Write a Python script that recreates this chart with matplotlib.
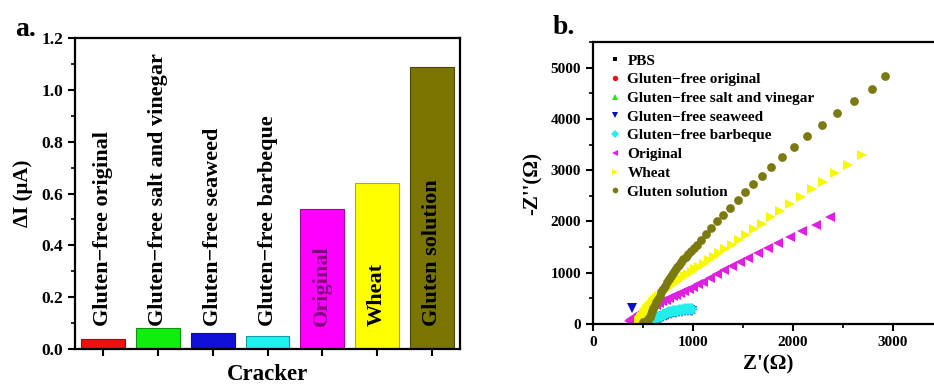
import matplotlib
matplotlib.use("Agg")
import matplotlib.pyplot as plt
from matplotlib.ticker import MultipleLocator

plt.rcParams['font.family'] = ['Liberation Serif', 'DejaVu Serif']
plt.rcParams['font.weight'] = 'bold'

# ---------------- Panel a data ----------------
bar_labels = ["Gluten\u2212free original", "Gluten\u2212free salt and vinegar",
              "Gluten\u2212free seaweed", "Gluten\u2212free barbeque",
              "Original", "Wheat", "Gluten solution"]
bar_values = [0.04, 0.08, 0.06, 0.05, 0.54, 0.64, 1.09]
bar_colors = ["#f01010", "#10ee10", "#1010d8", "#20f0f0", "#ff00ff", "#ffff00", "#7a7400"]
bar_edges = ["#901010", "#109010", "#101080", "#10a0a0", "#a000a0", "#b0b000", "#4a4800"]
text_colors = ["black", "black", "black", "black", "#800080", "black", "black"]
yticks_a = [0.0, 0.2, 0.4, 0.6, 0.8, 1.0, 1.2]

# ---------------- Panel b data ----------------
series_names = ["PBS", "Gluten\u2212free original", "Gluten\u2212free salt and vinegar",
                "Gluten\u2212free seaweed", "Gluten\u2212free barbeque",
                "Original", "Wheat", "Gluten solution"]

cyan_x = [560, 570, 580, 590, 600, 615, 630, 645, 660, 680, 700, 720, 740, 760, 780,
          800, 820, 840, 860, 880, 900, 920, 940, 960, 975, 985]
cyan_y = [10, 25, 40, 55, 70, 90, 110, 128, 145, 165, 183, 198, 212, 225, 236,
          246, 255, 263, 270, 276, 281, 285, 288, 290, 290, 285]

pbs_x = [560, 580, 600, 630, 660, 700, 740, 780, 820, 860, 900, 940, 975]
pbs_y = [15, 45, 75, 115, 150, 185, 212, 235, 255, 270, 280, 287, 288]

gfo_x = [565, 585, 605, 635, 665, 705, 745, 785, 825, 865, 905, 945, 978]
gfo_y = [18, 48, 78, 118, 152, 188, 215, 238, 258, 272, 282, 288, 289]

gfsv_x = [562, 582, 602, 632, 662, 702, 742, 782, 822, 862, 902, 942, 976]
gfsv_y = [20, 50, 80, 120, 155, 190, 217, 240, 260, 273, 283, 289, 290]

sea_x = [387, 580, 600, 620, 640, 660, 680, 700, 725, 750, 775, 800, 830, 860, 890,
         920, 950, 975, 985]
sea_y = [305, 10, 35, 60, 82, 102, 122, 140, 160, 178, 194, 208, 222, 234, 243,
         250, 255, 258, 258]

orig_x = [358, 368, 380, 395, 412, 430, 450, 472, 495, 520, 545, 572, 600, 630, 660,
          690, 725, 760, 795, 830, 870, 910, 955, 1000, 1050,
          1103, 1170, 1237, 1310, 1387, 1470, 1553, 1647, 1747, 1853, 1970, 2093, 2227, 2370]
orig_y = [50, 72, 95, 118, 142, 165, 188, 212, 238, 265, 292, 320, 350, 380, 410,
          440, 472, 505, 540, 575, 612, 650, 690, 730, 775,
          822, 900, 972, 1049, 1133, 1211, 1295, 1386, 1483, 1587, 1697, 1814, 1937, 2085]

wheat_x = [460, 468, 478, 490, 505, 520, 540, 560, 580, 600, 620, 640, 660, 685, 710,
           735, 760, 790, 820, 850, 880, 915, 950, 985, 1020, 1060, 1105, 1155, 1205,
           1260, 1320, 1385, 1456, 1530, 1605, 1687, 1775, 1867, 1967, 2075, 2187,
           2303, 2420, 2550, 2687]
wheat_y = [55, 85, 120, 160, 200, 240, 285, 330, 375, 420, 465, 510, 555, 600, 640,
           680, 720, 760, 800, 840, 885, 930, 975, 1020, 1065, 1115, 1175, 1240, 1305,
           1380, 1460, 1550, 1640, 1740, 1845, 1960, 2085, 2210, 2345, 2485, 2625,
           2775, 2940, 3110, 3290]

glu_x = [496, 506, 518, 530, 542, 554, 566, 578, 590, 603, 617, 632, 648, 665, 682,
         700, 720, 740, 760, 780, 800, 820, 840, 860, 880, 900, 925, 950, 975, 1005,
         1040, 1080, 1130, 1180, 1240, 1303, 1370, 1447, 1523, 1597, 1687, 1780, 1890,
         2010, 2143, 2287, 2443, 2610, 2793, 2920]
glu_y = [40, 20, 15, 30, 60, 100, 145, 195, 250, 305, 365, 425, 490, 555, 620,
         685, 750, 815, 875, 935, 995, 1050, 1105, 1160, 1210, 1260, 1315, 1370, 1425, 1480,
         1545, 1639, 1749, 1872, 2002, 2131, 2267, 2422, 2571, 2721, 2889, 3064, 3252,
         3452, 3666, 3880, 4107, 4353, 4592, 4832]

xticks_b = [0, 1000, 2000, 3000]
yticks_b = [0, 1000, 2000, 3000, 4000, 5000]

# ---------------- Figure ----------------
W, H = 934, 387
fig = plt.figure(figsize=(W / 100, H / 100), dpi=100)

# ---- Panel a ----
axa = fig.add_axes([75 / W, 1 - 349 / H, (460 - 75) / W, (349 - 38) / H])
pos = list(range(1, len(bar_values) + 1))
axa.bar(pos, bar_values, width=0.8, color=bar_colors, edgecolor=bar_edges, linewidth=0.8)
for p, lab, tc in zip(pos, bar_labels, text_colors):
    axa.text(p, 0.09, lab, rotation=90, ha='center', va='bottom', fontsize=16,
             fontweight='bold', color=tc)
axa.set_xlim(0.49, 7.51)
axa.set_ylim(0, 1.2)
axa.set_xticks(pos)
axa.set_xticklabels([''] * len(pos))
axa.set_yticks(yticks_a)
axa.set_yticklabels([f"{v:.1f}" for v in yticks_a], fontsize=12.5, fontweight='bold')
axa.yaxis.set_minor_locator(MultipleLocator(0.1))
axa.tick_params(axis='both', which='major', direction='out', length=5, width=1.5,
                top=False, right=False)
axa.tick_params(axis='y', which='minor', direction='out', length=3, width=1.2)
for s in axa.spines.values():
    s.set_linewidth(1.6)
axa.set_ylabel("\u0394I (\u03bcA)", fontsize=15, fontweight='bold', labelpad=6)
axa.set_xlabel("Cracker", fontsize=16.5, fontweight='bold', labelpad=2)
fig.text(15 / W, 1 - 30 / H, "a.", fontsize=20, fontweight='bold', va='center', ha='left')

# ---- Panel b ----
axb = fig.add_axes([593 / W, 1 - 324 / H, 350 / W, (324 - 42) / H])
axb.plot(pbs_x, pbs_y, 's', color='black', ms=5.5, mew=0, label=series_names[0])
axb.plot(gfo_x, gfo_y, 'o', color='#ee1010', ms=6, mew=0, label=series_names[1])
axb.plot(gfsv_x, gfsv_y, '^', color='#10ee10', ms=6.5, mew=0, label=series_names[2])
axb.plot(sea_x, sea_y, 'v', color='#0a0ac8', ms=7, mew=0, label=series_names[3])
axb.plot(cyan_x, cyan_y, 'D', color='#22eeee', ms=6, mew=0, label=series_names[4])
axb.plot(orig_x, orig_y, '<', color='#e020e0', ms=7, mew=0, label=series_names[5])
axb.plot(wheat_x, wheat_y, '>', color='#f8f800', ms=7, mew=0, label=series_names[6])
axb.plot(glu_x, glu_y, 'o', color='#7a7a10', ms=6.3, mew=0, label=series_names[7])
axb.set_xlim(0, 3500)
axb.set_ylim(0, 5500)
axb.set_xticks(xticks_b)
axb.set_yticks(yticks_b)
axb.set_xticklabels([str(v) for v in xticks_b], fontsize=11, fontweight='bold')
axb.set_yticklabels([str(v) for v in yticks_b], fontsize=11, fontweight='bold')
axb.xaxis.set_minor_locator(MultipleLocator(500))
axb.yaxis.set_minor_locator(MultipleLocator(500))
axb.tick_params(axis='both', which='major', direction='out', length=5, width=1.5,
                top=False, right=False)
axb.tick_params(axis='both', which='minor', direction='out', length=3, width=1.2)
for s in axb.spines.values():
    s.set_linewidth(1.6)
axb.set_xlabel("Z'(\u03a9)", fontsize=15, fontweight='bold', labelpad=4)
axb.set_ylabel("-Z''(\u03a9)", fontsize=15, fontweight='bold', labelpad=6)
leg = axb.legend(loc='upper left', bbox_to_anchor=(0.046, 0.958), frameon=False,
                 prop={'family': 'Liberation Serif', 'weight': 'bold', 'size': 11},
                 handlelength=0.8, handletextpad=0.4, labelspacing=0.33,
                 borderpad=0, borderaxespad=0, markerscale=0.65)
fig.text(553 / W, 1 - 28 / H, "b.", fontsize=20, fontweight='bold', va='center', ha='left')

fig.savefig("out.png", dpi=100)
